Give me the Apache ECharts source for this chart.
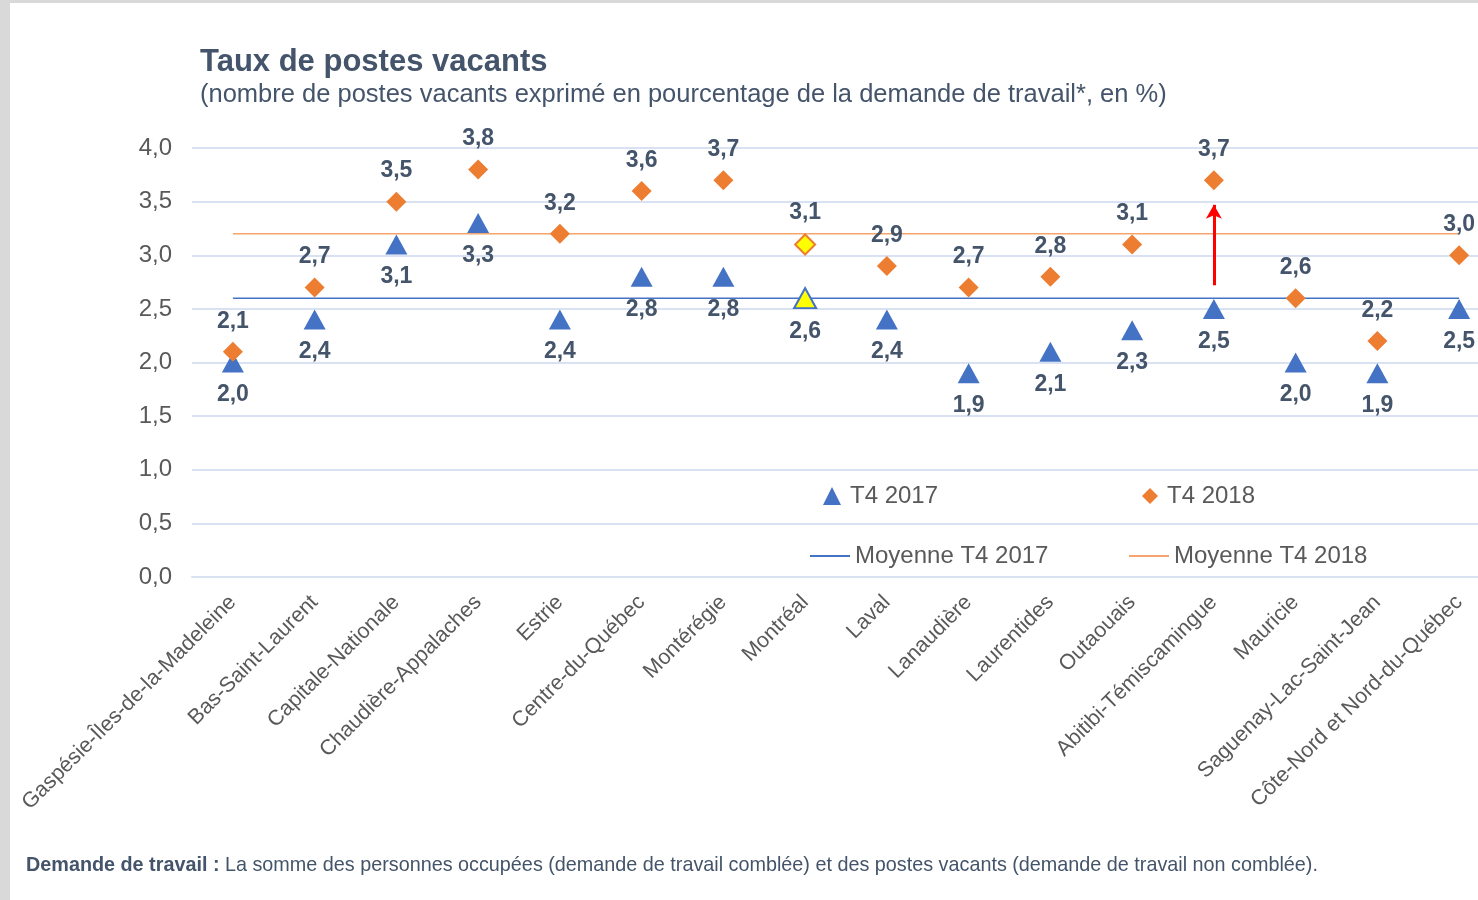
<!DOCTYPE html>
<html>
<head>
<meta charset="utf-8">
<script src="https://cdn.jsdelivr.net/npm/echarts@6/dist/echarts.min.js"></script>
<style>
  html, body { margin: 0; padding: 0; background: #fff; }
  #chart { width: 1478px; height: 900px; }
</style>
</head>
<body>
<div id="chart"></div>
<script>
// regions
const regions = [
  'Gaspésie-Îles-de-la-Madeleine', 'Bas-Saint-Laurent', 'Capitale-Nationale',
  'Chaudière-Appalaches', 'Estrie', 'Centre-du-Québec', 'Montérégie', 'Montréal',
  'Laval', 'Lanaudière', 'Laurentides', 'Outaouais', 'Abitibi-Témiscamingue',
  'Mauricie', 'Saguenay-Lac-Saint-Jean', 'Côte-Nord et Nord-du-Québec'
]
const t4_2017 = [2.0, 2.4, 3.1, 3.3, 2.4, 2.8, 2.8, 2.6, 2.4, 1.9, 2.1, 2.3, 2.5, 2.0, 1.9, 2.5]
const t4_2018 = [2.1, 2.7, 3.5, 3.8, 3.2, 3.6, 3.7, 3.1, 2.9, 2.7, 2.8, 3.1, 3.7, 2.6, 2.2, 3.0]
const moyenne2017 = 2.6
const moyenne2018 = 3.2
const yTicks = [0, 0.5, 1, 1.5, 2, 2.5, 3, 3.5, 4]
const highlighted = 'Montréal'
const arrowRegion = 'Abitibi-Témiscamingue'
const arrowFrom = 2.72
const arrowTo = 3.47

const blue = '#4472c4'
const orange = '#ed7d31'
const lightOrange = '#f4a46c'
const textDark = '#44546a'
const textGray = '#595959'
const fmt = v => v.toFixed(1).replace('.', ',')

const chart = echarts.init(document.getElementById('chart'))

function pointData(values, border) {
  return values.map((v, i) => regions[i] === highlighted
    ? { value: v, itemStyle: { color: '#ffff00', borderColor: border, borderWidth: 2 } }
    : v)
}

function legendAt(item, left, top, w, h, padLeft) {
  return {
    data: [item], left: left, top: top, itemWidth: w, itemHeight: h, itemGap: 0,
    textStyle: { color: textGray, fontSize: 24, fontFamily: 'Liberation Sans', padding: [0, 0, 0, padLeft] },
    selectedMode: false
  }
}

chart.setOption({
  backgroundColor: '#fff',
  textStyle: { fontFamily: 'Liberation Sans' },
  title: {
    text: 'Taux de postes vacants',
    subtext: '(nombre de postes vacants exprimé en pourcentage de la demande de travail*, en %)',
    left: 195, top: 42, itemGap: 4,
    textStyle: { color: textDark, fontSize: 31, fontWeight: 'bold' },
    subtextStyle: { color: textDark, fontSize: 25.5 }
  },
  legend: [
    legendAt('T4 2017', 818, 479, 18, 18, 4),
    legendAt('T4 2018', 1137, 479, 16, 16, 4),
    legendAt({ name: 'Moyenne T4 2017', icon: 'rect' }, 805, 539, 40, 2, 0),
    legendAt({ name: 'Moyenne T4 2018', icon: 'rect' }, 1124, 539, 40, 2, 0)
  ],
  grid: { left: 192, top: 148, width: 1308, height: 429, outerBoundsMode: 'none', containLabel: false },
  xAxis: {
    type: 'category',
    data: regions,
    axisLine: { lineStyle: { color: '#d9e2f3', width: 2 } },
    axisTick: { show: false },
    axisLabel: { rotate: 45, margin: 22, color: textGray, fontSize: 21.5, interval: 0 }
  },
  yAxis: {
    type: 'value',
    min: yTicks[0], max: yTicks[yTicks.length - 1], interval: 0.5,
    axisLine: { show: false },
    axisTick: { show: false },
    axisLabel: { formatter: fmt, color: textGray, fontSize: 24, margin: 20 },
    splitLine: { lineStyle: { color: '#d9e2f3', width: 2 } }
  },
  graphic: [
    { type: 'rect', left: 0, top: 0, shape: { width: 10, height: 900 }, style: { fill: '#d9d9d9' } },
    { type: 'rect', left: 0, top: 0, shape: { width: 1478, height: 3 }, style: { fill: '#d9d9d9' } },
    {
      type: 'text', left: 26, top: 856,
      style: {
        text: '{b|Demande de travail :} La somme des personnes occupées (demande de travail comblée) et des postes vacants (demande de travail non comblée).',
        fill: textDark, fontSize: 19.8, fontFamily: 'Liberation Sans',
        rich: { b: { fontWeight: 'bold', fontSize: 19.8, fill: textDark, fontFamily: 'Liberation Sans' } }
      }
    }
  ],
  series: [
    {
      name: 'Moyenne T4 2017', type: 'line', symbol: 'none',
      data: regions.map(() => moyenne2017),
      lineStyle: { color: blue, width: 1.5 }, itemStyle: { color: blue },
      z: 1, silent: true
    },
    {
      name: 'Moyenne T4 2018', type: 'line', symbol: 'none',
      data: regions.map(() => moyenne2018),
      lineStyle: { color: lightOrange, width: 1.5 }, itemStyle: { color: lightOrange },
      z: 1, silent: true
    },
    {
      name: 'T4 2017', type: 'scatter', symbol: 'triangle', symbolSize: [22, 20],
      data: pointData(t4_2017, blue),
      itemStyle: { color: blue, opacity: 1 },
      label: {
        show: true, position: 'bottom', distance: 11,
        formatter: p => fmt(p.value), color: textDark, fontSize: 23, fontWeight: 'bold'
      },
      markLine: {
        silent: true, symbol: ['none', 'arrow'], symbolSize: [12, 14],
        lineStyle: { color: '#ff0000', width: 3, type: 'solid' },
        label: { show: false },
        data: [[{ coord: [arrowRegion, arrowFrom] }, { coord: [arrowRegion, arrowTo] }]]
      },
      z: 3
    },
    {
      name: 'T4 2018', type: 'scatter', symbol: 'diamond', symbolSize: 20,
      data: pointData(t4_2018, orange),
      itemStyle: { color: orange, opacity: 1 },
      label: {
        show: true, position: 'top', distance: 9,
        formatter: p => fmt(p.value), color: textDark, fontSize: 23, fontWeight: 'bold'
      },
      z: 3
    }
  ]
})
</script>
</body>
</html>
